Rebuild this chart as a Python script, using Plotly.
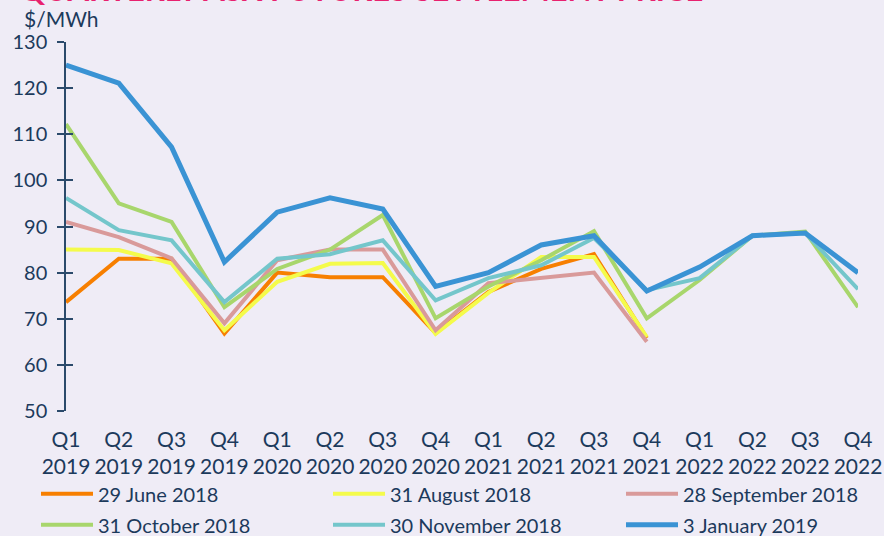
import plotly.graph_objects as go

quarters = ["Q1", "Q2", "Q3", "Q4", "Q1", "Q2", "Q3", "Q4",
            "Q1", "Q2", "Q3", "Q4", "Q1", "Q2", "Q3", "Q4"]
years = ["2019"] * 4 + ["2020"] * 4 + ["2021"] * 4 + ["2022"] * 4

june_2018 = [73.6, 83, 83, 66.8, 80, 79, 79, 66.9, 75.8, 80.8, 84, 65.8]
aug_2018 = [85, 84.9, 82, 67.5, 78, 81.9, 82.1, 66.7, 75.6, 83.4, 83.4, 66]
sep_2018 = [91, 87.7, 83.1, 69, 82.7, 85, 85, 67.5, 77.7, 78.8, 80, 65]
oct_2018 = [112.2, 95, 91, 72.5, 80.8, 85, 92.5, 70.1, 77, 82.7, 89, 70.1, 78.4, 88, 88.9, 72.5]
nov_2018 = [96.2, 89.2, 87, 73.6, 83, 84, 87, 74, 78.8, 81.6, 87.5, 76.2, 78.8, 88, 88.6, 76.4]
jan_2019 = [125, 121.1, 107.2, 82.3, 93.1, 96.2, 93.8, 77, 80, 86, 88, 76, 81.2, 88, 88.6, 80]

# (name, values, colour, width, legend column)
series = [
    ("29 June 2018", june_2018, "#F77F00", 4, "legend"),
    ("31 August 2018", aug_2018, "#F4FB4B", 4, "legend2"),
    ("28 September 2018", sep_2018, "#D99A9A", 4, "legend3"),
    ("31 October 2018", oct_2018, "#A8D66C", 4, "legend"),
    ("30 November 2018", nov_2018, "#74C6CB", 4, "legend2"),
    ("3 January 2019", jan_2019, "#3A93D4", 5, "legend3"),
]

navy = "#1C3A5C"
bg = "#EFECF6"
FONT = "Lato"

fig = go.Figure()
for i, (name, vals, color, w, lg) in enumerate(series):
    fig.add_trace(go.Scatter(
        x=list(range(len(vals))), y=vals, name=name, mode="lines",
        line=dict(color=color, width=w), hoverinfo="skip",
        legend=lg, legendgroup=f"g{i}",
    ))

ticktext = [f"{q}<br>{y}" for q, y in zip(quarters, years)]

def legend_at(xpx):
    return dict(
        orientation="v", xref="container", yref="container",
        x=xpx / 884, xanchor="left", y=0.115, yanchor="top",
        font=dict(size=20, color=navy), bgcolor="rgba(0,0,0,0)",
        itemwidth=52, tracegroupgap=2,
    )

fig.update_layout(
    width=884, height=536,
    paper_bgcolor=bg, plot_bgcolor=bg,
    margin=dict(l=66, r=26, t=42, b=125, autoexpand=False),
    font=dict(family=FONT, color=navy, size=19),
    showlegend=True,
    legend=legend_at(36),
    legend2=legend_at(328),
    legend3=legend_at(621),
    xaxis=dict(
        range=[0, 15], tickmode="array", tickvals=list(range(16)), ticktext=ticktext,
        showgrid=False, zeroline=False, showline=False, ticks="", automargin=False,
        tickfont=dict(size=21, color=navy), ticklabelstandoff=14,
    ),
    yaxis=dict(
        range=[50, 130], tickmode="array", tickvals=list(range(50, 131, 10)),
        showgrid=False, zeroline=False, showline=True, linecolor="#2B4A6B", linewidth=1.5,
        ticks="outside", ticklen=7, tickwidth=1.5, tickcolor="#2B4A6B", automargin=False,
        tickfont=dict(size=20, color=navy), ticklabelstandoff=6,
    ),
    yaxis2=dict(
        range=[50, 130], overlaying="y", side="left", tickmode="array",
        tickvals=list(range(50, 131, 10)), showticklabels=False, automargin=False,
        showgrid=False, zeroline=False, showline=False,
        ticks="inside", ticklen=7, tickwidth=1.5, tickcolor="#2B4A6B",
    ),
    annotations=[
        dict(text="$/MWh", xref="paper", yref="paper", x=-0.056, y=1.025,
             xanchor="left", yanchor="bottom", showarrow=False,
             font=dict(size=21, color=navy, family=FONT)),
        dict(text="<b>QUARTERLY ASX FUTURES SETTLEMENT PRICE</b>", xref="paper", yref="paper",
             x=-0.061, y=1.088, xanchor="left", yanchor="bottom", showarrow=False,
             font=dict(size=31, color="#E8216F", family=FONT)),
    ],
)
fig.add_trace(go.Scatter(x=[0], y=[50], yaxis="y2", mode="markers",
                         marker=dict(opacity=0), showlegend=False, hoverinfo="skip"))

fig.write_html("out.html", config={"displayModeBar": False},
               post_script="document.body.style.margin='0';document.body.style.background='#EFECF6';")
